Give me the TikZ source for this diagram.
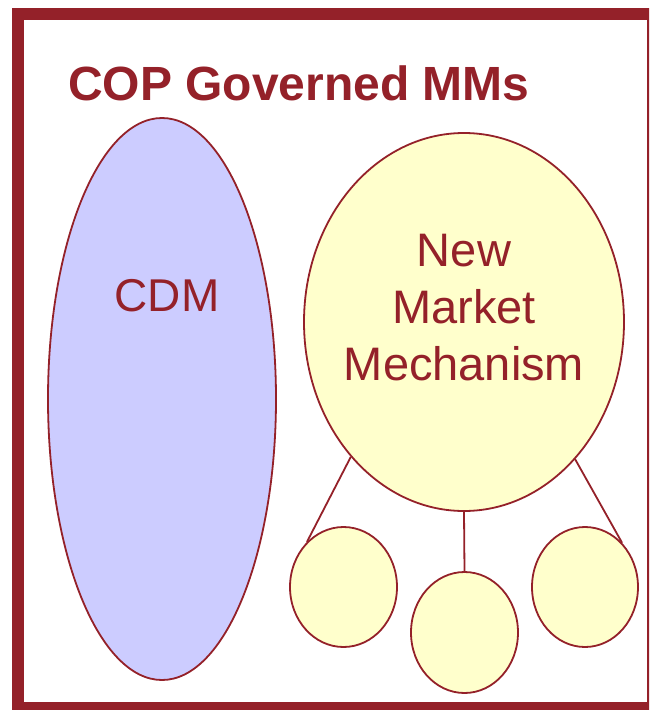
\documentclass[tikz,border=0pt]{standalone}
\usepackage{fontspec}
\setmainfont{Liberation Sans}
\usetikzlibrary{shapes.geometric}
\definecolor{dred}{RGB}{148,33,41}
\definecolor{lblue}{RGB}{204,204,255}
\definecolor{lyellow}{RGB}{255,255,204}
\tikzset{
  bubble/.style={ellipse, draw=dred, line width=1.8pt, inner sep=0pt},
  lbl/.style={text=dred, font=\fontsize{47}{57}\selectfont, anchor=base, inner sep=0pt},
  link/.style={draw=dred, line width=1.8pt},
}
\begin{document}
\begin{tikzpicture}[x=1pt, y=-1pt]
\clip (0,0) rectangle (649,710);
\fill[white] (0,0) rectangle (649,710);
% frame
\draw[dred, line width=12pt] (18,14) rectangle (653,708);
% title
\node[text=dred, font=\bfseries\fontsize{48}{58}\selectfont, anchor=base west, inner sep=0pt] (title) at (68,100) {COP Governed MMs};
% CDM
\node[bubble, fill=lblue, minimum width=228pt, minimum height=562pt] (cdm) at (162,399) {};
\node[lbl, font=\fontsize{46}{56}\selectfont] (cdmt) at (167,311) {CDM};
% NMM
\node[bubble, fill=lyellow, minimum width=320pt, minimum height=378pt] (nmm) at (464,322) {};
\node[lbl] (t1) at (464,266) {New};
\node[lbl] (t2) at (464,323) {Market};
\node[lbl] (t3) at (464,380) {Mechanism};
% small bubbles
\node[bubble, fill=lyellow, minimum width=107pt, minimum height=120pt] (s1) at (343.5,587) {};
\node[bubble, fill=lyellow, minimum width=107pt, minimum height=121pt] (s2) at (464.5,632.5) {};
\node[bubble, fill=lyellow, minimum width=106pt, minimum height=120pt] (s3) at (585,587) {};
% links
\draw[link] (nmm.230.3) -- (s1.129.7);
\draw[link] (nmm.south) -- (s2.north);
\draw[link] (nmm.309.7) -- (s3.50.3);
\end{tikzpicture}
\end{document}
